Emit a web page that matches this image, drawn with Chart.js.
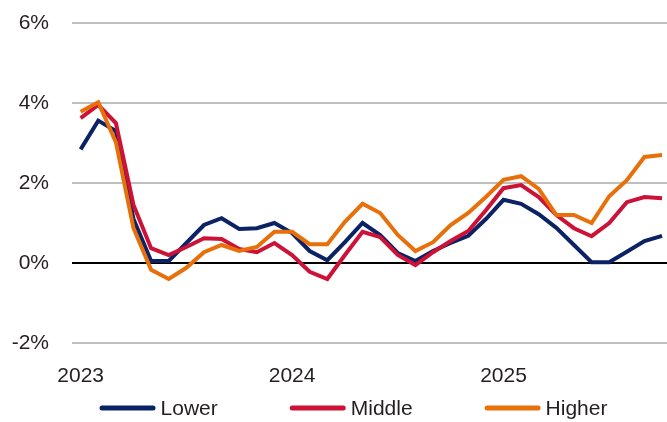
<!DOCTYPE html>
<html>
<head>
<meta charset="utf-8">
<script src="https://cdn.jsdelivr.net/npm/chart.js@4/dist/chart.umd.min.js"></script>
<style>
  html, body { margin: 0; padding: 0; background: #fff; }
  #wrap { width: 667px; height: 422px; }
</style>
</head>
<body>
<div id="wrap"><canvas id="myChart" width="667" height="422"></canvas></div>
<script>
    // monthly readings, Jan 2023 .. Oct 2025 (percent)
    var months = ["2023-01","2023-02","2023-03","2023-04","2023-05","2023-06","2023-07","2023-08","2023-09","2023-10","2023-11","2023-12",
                  "2024-01","2024-02","2024-03","2024-04","2024-05","2024-06","2024-07","2024-08","2024-09","2024-10","2024-11","2024-12",
                  "2025-01","2025-02","2025-03","2025-04","2025-05","2025-06","2025-07","2025-08","2025-09","2025-10"];

    var lower  = [2.84, 3.56, 3.3, 1.1, 0.05, 0.05, 0.5, 0.95, 1.12, 0.85, 0.87, 1.0,
                  0.75, 0.3, 0.07, 0.52, 1.0, 0.7, 0.25, 0.05, 0.3, 0.5, 0.68, 1.1,
                  1.58, 1.48, 1.22, 0.88, 0.45, 0.02, 0.02, 0.28, 0.55, 0.68];
    var middle = [3.62, 3.95, 3.5, 1.45, 0.37, 0.2, 0.4, 0.62, 0.6, 0.35, 0.27, 0.5,
                  0.2, -0.22, -0.4, 0.2, 0.78, 0.65, 0.2, -0.05, 0.27, 0.55, 0.8, 1.32,
                  1.87, 1.95, 1.65, 1.2, 0.87, 0.67, 1.0, 1.52, 1.65, 1.62];
    var higher = [3.78, 4.02, 3.02, 0.87, -0.17, -0.4, -0.12, 0.27, 0.45, 0.3, 0.4, 0.78,
                  0.78, 0.47, 0.47, 1.03, 1.48, 1.25, 0.7, 0.3, 0.52, 0.95, 1.25, 1.65,
                  2.08, 2.17, 1.85, 1.2, 1.2, 1.0, 1.67, 2.07, 2.65, 2.7];

    var yearTicks = [0, 12, 24];
    var yearLabels = ["2023", "2024", "2025"];
    var yTicks = [-2, 0, 2, 4, 6];

    var seriesNames = ["Lower", "Middle", "Higher"];
    var seriesColors = ["#0B2265", "#CC1236", "#E8700A"];

    function toPoints(arr) {
        var pts = [];
        for (var i = 0; i < arr.length; i++) {
            pts.push({x: i, y: arr[i]});
        }
        return pts;
    }

    var font = {family: "'Liberation Sans', Arial, sans-serif", size: 21};
    var textColor = "#231F20";

    // legend drawn by hand: short rounded line, small gap, label, wide gap
    var lineLegend = {
        id: "lineLegend",
        afterDraw: function(chart) {
            var c = chart.ctx;
            var sample = 56, gapIn = 5, gapOut = 72, yMid = 409;
            c.save();
            c.font = font.size + "px " + font.family;
            var widths = seriesNames.map(function(t) { return c.measureText(t).width; });
            var total = 0;
            widths.forEach(function(w, i) { total += sample + gapIn + w + (i < widths.length - 1 ? gapOut : 0); });
            var x = 353.5 - total / 2;
            c.textBaseline = "middle";
            c.textAlign = "left";
            chart.data.datasets.forEach(function(ds, i) {
                c.strokeStyle = ds.borderColor;
                c.lineWidth = 5;
                c.lineCap = "round";
                c.beginPath();
                c.moveTo(x + 2.5, yMid - 1);
                c.lineTo(x + sample - 2.5, yMid - 1);
                c.stroke();
                c.fillStyle = textColor;
                c.fillText(ds.label, x + sample + gapIn, yMid);
                x += sample + gapIn + widths[i] + gapOut;
            });
            c.restore();
        }
    };

    var data = {
        datasets: [lower, middle, higher].map(function(arr, k) {
            return {
                label: seriesNames[k],
                data: toPoints(arr),
                borderColor: seriesColors[k],
                backgroundColor: seriesColors[k],
                borderWidth: 4,
                pointRadius: 0,
                tension: 0,
                order: 3 - k
            };
        })
    };

    var options = {
        responsive: false,
        animation: false,
        devicePixelRatio: 1,
        layout: {padding: {top: 23, right: 0, left: 0, bottom: 33}},
        plugins: {
            tooltip: {enabled: false},
            legend: {display: false}
        },
        scales: {
            x: {
                type: "linear",
                min: -0.49,
                max: 33.28,
                grid: {display: false},
                border: {display: false},
                afterBuildTicks: function(scale) {
                    scale.ticks = yearTicks.map(function(v) { return {value: v}; });
                },
                afterFit: function(scale) {
                    scale.height = 46;
                    scale.paddingLeft = 0;
                    scale.paddingRight = 0;
                },
                ticks: {
                    font: font,
                    color: textColor,
                    padding: 13,
                    maxRotation: 0,
                    autoSkip: false,
                    callback: function(v) {
                        var i = yearTicks.indexOf(v);
                        return i >= 0 ? yearLabels[i] : "";
                    }
                }
            },
            y: {
                min: -2,
                max: 6,
                border: {display: false},
                afterBuildTicks: function(scale) {
                    scale.ticks = yTicks.map(function(v) { return {value: v}; });
                },
                afterFit: function(scale) {
                    scale.width = 72;
                    scale.paddingTop = 0;
                    scale.paddingBottom = 0;
                },
                grid: {
                    drawTicks: false,
                    lineWidth: 2,
                    color: function(ctx) {
                        return ctx.tick && ctx.tick.value === 0 ? "#000" : "#BFBFBF";
                    }
                },
                ticks: {
                    font: font,
                    color: textColor,
                    padding: 23,
                    callback: function(v) { return v + "%"; }
                }
            }
        }
    };

    var ctx = document.getElementById("myChart").getContext("2d");
    var myNewChart = new Chart(ctx, {type: "line", data: data, options: options, plugins: [lineLegend]});
</script>
</body>
</html>
